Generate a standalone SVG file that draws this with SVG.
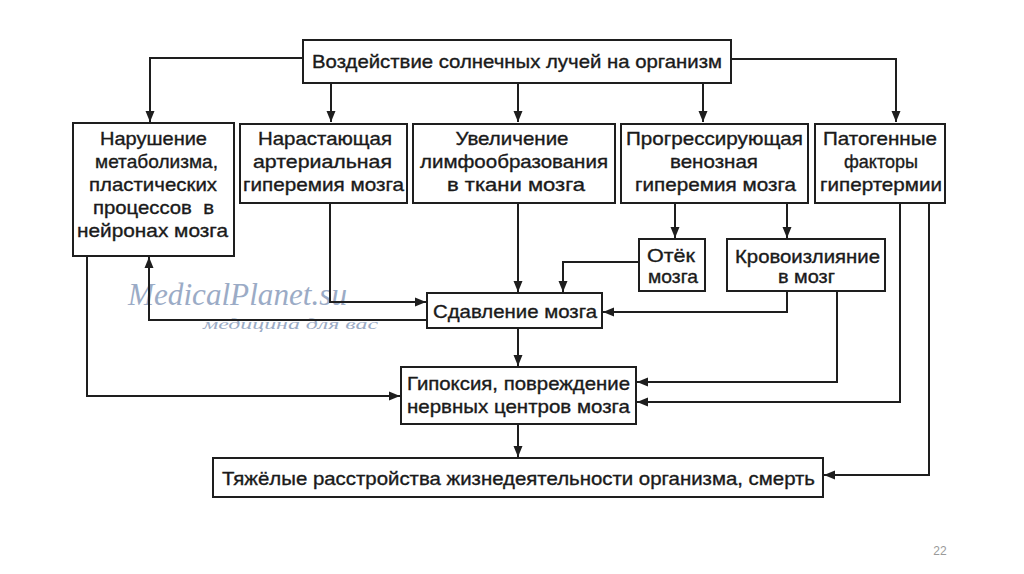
<svg xmlns="http://www.w3.org/2000/svg" width="1024" height="574" viewBox="0 0 1024 574">
<style>
.box{fill:#fff;stroke:#1e1e1e;stroke-width:2}
.t{font-family:"Liberation Sans",Arial,sans-serif;font-size:18.5px;fill:#1a1a1a;stroke:#1a1a1a;stroke-width:0.35;text-anchor:middle}
.c{fill:none;stroke:#1e1e1e;stroke-width:2}
.wm{font-family:"Liberation Serif","Times New Roman",serif;font-style:italic;fill:#8397b8;opacity:0.8}
</style>
<defs>
<marker id="ah" markerUnits="userSpaceOnUse" markerWidth="12" markerHeight="12" viewBox="0 0 12 12" refX="11" refY="6" orient="auto">
<path d="M0,1.5 L11,6 L0,10.5 Z" fill="#1e1e1e"/>
</marker>
</defs>
<rect width="1024" height="574" fill="#fff"/>
<g id="watermark">
<text class="wm" x="128" y="305" font-size="31" textLength="219" lengthAdjust="spacingAndGlyphs">MedicalPlanet.su</text>
<text class="wm" x="203" y="329" font-size="15" textLength="175" lengthAdjust="spacingAndGlyphs">медицина для вас</text>
</g>
<g id="connectors">
<path class="c" d="M303,58 H150 V122" marker-end="url(#ah)"/>
<path class="c" d="M331,83 V122" marker-end="url(#ah)"/>
<path class="c" d="M518,83 V122" marker-end="url(#ah)"/>
<path class="c" d="M703,83 V122" marker-end="url(#ah)"/>
<path class="c" d="M731,59 H896 V122" marker-end="url(#ah)"/>
<path class="c" d="M675,203 V238" marker-end="url(#ah)"/>
<path class="c" d="M787,203 V238" marker-end="url(#ah)"/>
<path class="c" d="M330,203 V302 H426" marker-end="url(#ah)"/>
<path class="c" d="M518,203 V292" marker-end="url(#ah)"/>
<path class="c" d="M639,262 H563 V292" marker-end="url(#ah)"/>
<path class="c" d="M787,291 V312 H603" marker-end="url(#ah)"/>
<path class="c" d="M427,320 H149 V257" marker-end="url(#ah)"/>
<path class="c" d="M837,291 V382 H637" marker-end="url(#ah)"/>
<path class="c" d="M900,203 V402 H637" marker-end="url(#ah)"/>
<path class="c" d="M87,256 V396 H400" marker-end="url(#ah)"/>
<path class="c" d="M518,328 V366" marker-end="url(#ah)"/>
<path class="c" d="M518,424 V457" marker-end="url(#ah)"/>
<path class="c" d="M929,203 V475 H824" marker-end="url(#ah)"/>
</g>
<g id="n-top">
<rect class="box" x="303" y="40" width="428" height="43"/>
<text class="t" x="517" y="68" textLength="410" lengthAdjust="spacingAndGlyphs">Воздействие солнечных лучей на организм</text>
</g>
<g id="n-metab">
<rect class="box" x="73" y="123" width="161" height="133"/>
<text class="t" x="153.5" y="145" textLength="107" lengthAdjust="spacingAndGlyphs">Нарушение</text>
<text class="t" x="156.5" y="168" textLength="123" lengthAdjust="spacingAndGlyphs">метаболизма,</text>
<text class="t" x="153" y="191" textLength="128" lengthAdjust="spacingAndGlyphs">пластических</text>
<text class="t" x="153.5" y="214" textLength="121" lengthAdjust="spacingAndGlyphs" xml:space="preserve">процессов  в</text>
<text class="t" x="152.5" y="237" textLength="151" lengthAdjust="spacingAndGlyphs">нейронах мозга</text>
</g>
<g id="n-arter">
<rect class="box" x="240" y="124" width="167" height="79"/>
<text class="t" x="325" y="145" textLength="134" lengthAdjust="spacingAndGlyphs">Нарастающая</text>
<text class="t" x="322.5" y="168" textLength="139" lengthAdjust="spacingAndGlyphs">артериальная</text>
<text class="t" x="323.5" y="191" textLength="161" lengthAdjust="spacingAndGlyphs">гиперемия мозга</text>
</g>
<g id="n-lymph">
<rect class="box" x="413" y="124" width="202" height="79"/>
<text class="t" x="512" y="145" textLength="113" lengthAdjust="spacingAndGlyphs">Увеличение</text>
<text class="t" x="514" y="168" textLength="188" lengthAdjust="spacingAndGlyphs">лимфообразования</text>
<text class="t" x="516" y="191" textLength="138" lengthAdjust="spacingAndGlyphs">в ткани мозга</text>
</g>
<g id="n-venous">
<rect class="box" x="621" y="124" width="187" height="79"/>
<text class="t" x="714.5" y="145" textLength="177" lengthAdjust="spacingAndGlyphs">Прогрессирующая</text>
<text class="t" x="714" y="168" textLength="88" lengthAdjust="spacingAndGlyphs">венозная</text>
<text class="t" x="715.5" y="191" textLength="161" lengthAdjust="spacingAndGlyphs">гиперемия мозга</text>
</g>
<g id="n-hyperth">
<rect class="box" x="815" y="124" width="130" height="79"/>
<text class="t" x="880" y="145" textLength="114" lengthAdjust="spacingAndGlyphs">Патогенные</text>
<text class="t" x="881" y="168" textLength="74" lengthAdjust="spacingAndGlyphs">факторы</text>
<text class="t" x="881" y="191" textLength="122" lengthAdjust="spacingAndGlyphs">гипертермии</text>
</g>
<g id="n-edema">
<rect class="box" x="639" y="239" width="66" height="52"/>
<text class="t" x="671" y="262" textLength="48" lengthAdjust="spacingAndGlyphs">Отёк</text>
<text class="t" x="673" y="283" textLength="50" lengthAdjust="spacingAndGlyphs">мозга</text>
</g>
<g id="n-hemorr">
<rect class="box" x="727" y="239" width="158" height="52"/>
<text class="t" x="807.5" y="263" textLength="145" lengthAdjust="spacingAndGlyphs">Кровоизлияние</text>
<text class="t" x="806.5" y="283" textLength="57" lengthAdjust="spacingAndGlyphs">в мозг</text>
</g>
<g id="n-compress">
<rect class="box" x="427" y="293" width="175" height="35"/>
<text class="t" x="515" y="318" textLength="164" lengthAdjust="spacingAndGlyphs">Сдавление мозга</text>
</g>
<g id="n-hypoxia">
<rect class="box" x="401" y="367" width="235" height="57"/>
<text class="t" x="518.5" y="390" textLength="223" lengthAdjust="spacingAndGlyphs">Гипоксия, повреждение</text>
<text class="t" x="518.5" y="413" textLength="223" lengthAdjust="spacingAndGlyphs">нервных центров мозга</text>
</g>
<g id="n-final">
<rect class="box" x="213" y="458" width="610" height="39"/>
<text class="t" x="518.5" y="485" textLength="593" lengthAdjust="spacingAndGlyphs">Тяжёлые расстройства жизнедеятельности организма, смерть</text>
</g>
<text x="940" y="555" font-family="Liberation Sans,Arial,sans-serif" font-size="12" fill="#9a9a9a" text-anchor="middle">22</text>
</svg>
